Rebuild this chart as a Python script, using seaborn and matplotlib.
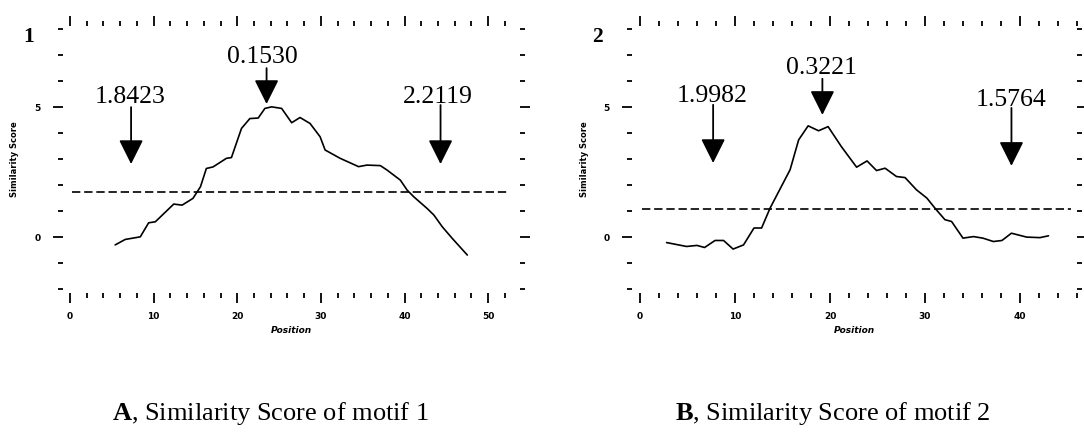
import matplotlib
matplotlib.use("Agg")
import matplotlib.pyplot as plt
import numpy as np
import pandas as pd
import seaborn as sns
from matplotlib.ticker import MultipleLocator

# ---------------- data ----------------
pos_1 = [5.4, 6.6, 8.4, 9.4, 10.2, 12.4, 13.4, 14.7, 15.6, 16.3, 17.1, 18.7, 19.3,
         20.5, 21.5, 22.5, 23.3, 24.1, 25.3, 26.5, 27.5, 28.7, 29.9, 30.5, 32.3,
         34.5, 35.5, 37.1, 37.9, 39.5, 40.3, 41.1, 42.7, 43.5, 44.5, 45.7, 47.5]
score_1 = [-0.30, -0.09, 0.01, 0.55, 0.59, 1.27, 1.23, 1.49, 1.94, 2.64, 2.70, 3.03, 3.06,
           4.18, 4.56, 4.58, 4.95, 5.01, 4.95, 4.40, 4.60, 4.37, 3.86, 3.35, 3.03,
           2.71, 2.77, 2.75, 2.58, 2.19, 1.81, 1.55, 1.10, 0.85, 0.40, -0.05, -0.69]
threshold_1 = 1.72
threshold_span_1 = [0.2, 52.2]

pos_2 = [2.8, 4.9, 6.0, 6.8, 7.9, 8.8, 9.8, 10.9, 12.0, 12.8, 13.7, 15.8, 16.7,
         17.7, 18.8, 19.8, 21.2, 22.8, 23.9, 24.9, 25.8, 27.0, 27.9, 29.1, 30.2,
         31.1, 32.1, 32.8, 34.0, 35.1, 36.1, 37.2, 38.1, 39.1, 40.7, 42.1, 43.0]
score_2 = [-0.21, -0.36, -0.32, -0.40, -0.13, -0.13, -0.46, -0.30, 0.35, 0.35, 1.12, 2.59, 3.74,
           4.28, 4.09, 4.25, 3.48, 2.69, 2.93, 2.56, 2.65, 2.33, 2.29, 1.82, 1.50,
           1.09, 0.67, 0.60, -0.04, 0.02, -0.04, -0.17, -0.13, 0.15, 0.00, -0.02, 0.05]
threshold_2 = 1.08
threshold_span_2 = [0.2, 45.4]

arrow_labels_1 = ["1.8423", "0.1530", "2.2119"]
arrow_pos_1 = [7.3, 23.5, 44.3]
arrow_labels_2 = ["1.9982", "0.3221", "1.5764"]
arrow_pos_2 = [7.7, 19.2, 39.1]

panel_numbers = ["1", "2"]
captions = [("A", ", Similarity Score of motif 1"), ("B", ", Similarity Score of motif 2")]

# ---------------- layout constants ----------------
W, H = 1084, 438
# per-arrow layout: (text x offset, text baseline, shaft top, tip)
arrow_layout_1 = [(-0.1, 5.15, 5.00, 2.81), (-0.5, 6.69, 6.50, 5.12), (-0.3, 5.15, 5.08, 2.81)]
arrow_layout_2 = [(-0.1, 5.20, 5.09, 2.85), (-0.1, 6.28, 6.09, 4.70), (-0.05, 5.05, 4.97, 2.74)]

sns.set_theme(style="white")
plt.rcParams["font.family"] = ["DejaVu Sans"]
plt.rcParams["text.color"] = "black"
plt.rcParams["axes.labelcolor"] = "black"
plt.rcParams["xtick.color"] = "black"
plt.rcParams["ytick.color"] = "black"
plt.rcParams["mathtext.fontset"] = "custom"
plt.rcParams["mathtext.rm"] = "Liberation Serif"
plt.rcParams["mathtext.bf"] = "Liberation Serif:bold"

fig = plt.figure(figsize=(W / 100, H / 100), dpi=100)
ax1 = fig.add_axes([63 / W, 1 - 293 / H, 457 / W, 267 / H])
ax2 = fig.add_axes([632 / W, 1 - 293 / H, 445 / W, 267 / H])

SERIF = "Liberation Serif"


def draw(ax, pos, score, thr, span, labels, apos, layout, xlim):
    df = pd.DataFrame({"Position": pos, "Similarity Score": score})
    sns.lineplot(data=df, x="Position", y="Similarity Score", ax=ax, color="black",
                 lw=1.2, sort=False, errorbar=None)
    tdf = pd.DataFrame({"Position": span, "Similarity Score": [thr, thr]})
    sns.lineplot(data=tdf, x="Position", y="Similarity Score", ax=ax, color="black",
                 lw=1.2, linestyle=(0, (5.0, 2.3)), sort=False, errorbar=None)

    for lab, x, (dx, tb, top, tip) in zip(labels, apos, layout):
        ax.annotate("", xy=(x, tip), xytext=(x, top),
                    arrowprops=dict(arrowstyle="-|>,head_length=1.5,head_width=0.75",
                                    mutation_scale=10, color="black", lw=1.3,
                                    shrinkA=0, shrinkB=0))
        ax.text(x + dx, tb, lab, ha="center", va="baseline", fontsize=18.5,
                family=SERIF, color="black")

    ax.set_xlim(*xlim)
    ax.set_ylim(-2.15, 8.12)
    for s in ax.spines.values():
        s.set_visible(False)
    ax.xaxis.set_major_locator(MultipleLocator(10))
    ax.xaxis.set_minor_locator(MultipleLocator(2))
    ax.yaxis.set_major_locator(MultipleLocator(5))
    ax.yaxis.set_minor_locator(MultipleLocator(1))
    ax.tick_params(which="both", direction="out", bottom=True, top=True, left=True,
                   right=True, labelbottom=True, labelleft=True, labeltop=False,
                   labelright=False, color="black", labelcolor="black", width=1.3,
                   labelsize=6.5)
    ax.tick_params(which="major", length=7.5)
    ax.tick_params(which="minor", length=3.8)
    ax.tick_params(axis="x", which="major", pad=6)
    ax.tick_params(axis="y", which="major", pad=8.5)
    for t in ax.get_xticklabels() + ax.get_yticklabels():
        t.set_fontweight("bold")
    ax.set_xlabel("Position", fontsize=6.5, fontweight="bold", fontstyle="italic",
                  labelpad=4, color="black")
    ax.set_ylabel("Similarity Score", fontsize=6, fontweight="bold", color="black")
    ax.yaxis.set_label_coords(-0.096, 0.5)
    ax.grid(False)


draw(ax1, pos_1, score_1, threshold_1, threshold_span_1, arrow_labels_1, arrow_pos_1,
     arrow_layout_1, (-0.84, 53.8))
draw(ax2, pos_2, score_2, threshold_2, threshold_span_2, arrow_labels_2, arrow_pos_2,
     arrow_layout_2, (-0.84, 46.0))

# panel numbers
for num, (px, py) in zip(panel_numbers, [(29, 42.5), (597.5, 41.7)]):
    fig.text(px / W, 1 - py / H, num, ha="center", va="baseline", fontsize=15.5,
             fontweight="bold", family=SERIF, color="black")

# captions
for (bold, rest), px in zip(captions, [112, 675]):
    fig.text(px / W, 1 - 420 / H, r"$\mathbf{" + bold + "}$" + rest, ha="left",
             va="baseline", fontsize=19, family=SERIF, color="black")

fig.savefig("out.png", dpi=100, facecolor="white")
